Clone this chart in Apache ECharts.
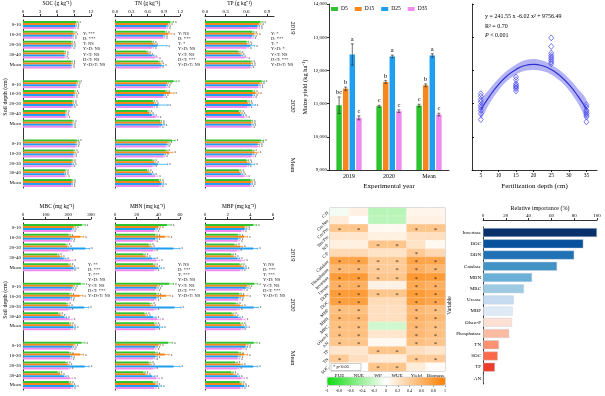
<!DOCTYPE html>
<html><head><meta charset="utf-8">
<script src="https://cdn.jsdelivr.net/npm/echarts@6/dist/echarts.min.js"></script>
<style>html,body{margin:0;padding:0;background:#fff}#c{width:605px;height:396px}</style>
</head><body><div id="c"></div><script>
const FONT = 'Liberation Serif';
const depthLabels = ['0-10','10-20','20-30','30-40','Mean'];
const yearGroups = ['2019','2020','Mean'];
const treatments = ['D5','D15','D25','D35'];
const COLORS = ['#2fc42f','#f7861c','#1e9ff2','#f08cf0'];

// Soil panels: rows = 2019 (5 depths), 2020 (5 depths), Mean (5 depths); one array per treatment
const SOC = [
 [9.4,8.8,8.5,7.3,8.5, 9.6,9.0,8.7,7.5,8.7, 9.5,8.9,8.6,7.4,8.6],
 [9.2,8.9,8.6,7.3,8.5, 9.4,9.1,8.7,7.4,8.6, 9.3,9.0,8.6,7.3,8.6],
 [9.2,8.7,8.5,7.2,8.4, 9.3,8.9,8.8,7.4,8.6, 9.3,8.8,8.6,7.3,8.5],
 [9.1,8.7,8.4,7.3,8.4, 9.3,8.9,8.6,7.5,8.6, 9.2,8.8,8.5,7.4,8.5]];
const SOC_ERR = [[0.3,0.2,0.2,0.2,0.2],[0.2,0.3,0.2,0.2,0.2],[0.2,0.2,0.3,0.2,0.2],[0.2,0.2,0.2,0.3,0.2]];
const TN = [
 [1.02,0.92,0.68,0.58,0.80, 1.08,0.93,0.70,0.60,0.83, 1.05,0.93,0.69,0.59,0.81],
 [0.98,0.98,0.71,0.62,0.83, 0.96,1.02,0.72,0.63,0.84, 0.97,1.00,0.72,0.62,0.83],
 [0.95,0.89,0.78,0.68,0.86, 0.94,0.90,0.80,0.68,0.87, 0.95,0.90,0.79,0.68,0.86],
 [0.94,0.89,0.68,0.74,0.82, 0.93,0.88,0.70,0.75,0.82, 0.93,0.89,0.69,0.74,0.82]];
const TN_ERR = [[0.06,0.03,0.03,0.03,0.03],[0.03,0.07,0.03,0.03,0.02],[0.03,0.03,0.18,0.04,0.04],[0.03,0.03,0.03,0.05,0.02]];
const TP = [
 [0.80,0.68,0.60,0.48,0.66, 0.82,0.69,0.61,0.49,0.67, 0.81,0.68,0.60,0.49,0.66],
 [0.78,0.71,0.61,0.50,0.67, 0.79,0.73,0.62,0.51,0.67, 0.78,0.72,0.61,0.50,0.67],
 [0.76,0.68,0.66,0.52,0.66, 0.77,0.69,0.67,0.53,0.67, 0.76,0.68,0.66,0.52,0.66],
 [0.76,0.67,0.60,0.57,0.65, 0.77,0.68,0.61,0.57,0.66, 0.76,0.67,0.60,0.57,0.65]];
const TP_ERR = [[0.04,0.03,0.03,0.03,0.02],[0.03,0.05,0.03,0.03,0.02],[0.03,0.03,0.06,0.03,0.03],[0.03,0.03,0.03,0.04,0.02]];
const MBC = [
 [260,201,187,150,201, 255,205,190,155,203, 258,203,188,152,202],
 [224,253,194,162,209, 220,250,198,165,210, 222,252,196,163,209],
 [216,209,275,179,224, 215,207,270,182,222, 216,208,272,180,223],
 [212,206,201,209,212, 210,205,200,205,210, 211,205,200,207,211]];
const MBC_ERR = [[15,8,8,8,8],[8,15,8,8,8],[8,8,20,10,10],[8,8,8,12,8]];
const MBN = [
 [48,37,31,26,35, 50,38,32,27,36, 49,37,31,26,35],
 [40,46,32,28,37, 39,47,33,28,37, 40,46,32,28,37],
 [37,37,54,34,40, 38,38,55,35,41, 37,37,54,34,40],
 [36,35,35,38,36, 37,36,36,39,37, 36,35,35,38,36]];
const MBN_ERR = [[4,2,2,2,2],[2,4,2,2,2],[2,2,6,3,3],[2,2,2,3,2]];
const MBP = [
 [4.25,2.9,2.6,2.3,3.05, 4.35,3.0,2.7,2.35,3.1, 4.3,2.95,2.65,2.3,3.05],
 [3.5,3.45,3.1,2.5,3.2, 3.7,3.5,3.1,2.5,3.2, 3.6,3.45,3.1,2.5,3.2],
 [3.5,2.9,4.25,2.85,3.45, 3.6,2.95,4.3,2.9,3.5, 3.55,2.9,4.25,2.85,3.45],
 [3.2,2.85,2.8,3.2,3.1, 3.3,2.9,2.85,3.25,3.15, 3.25,2.85,2.8,3.2,3.1]];
const MBP_ERR = [[0.3,0.2,0.2,0.2,0.2],[0.2,0.3,0.2,0.2,0.2],[0.2,0.2,0.4,0.2,0.2],[0.2,0.2,0.2,0.3,0.2]];

const SOC_STATS = ['Y: ***','D: ***','T: NS','Y×D: NS','Y×T: NS','D×T: NS','Y×D×T: NS'];
const TN_STATS  = ['Y: NS','D: ***','T: *','Y×D: NS','Y×T: NS','D×T: ***','Y×D×T: NS'];
const TP_STATS  = ['Y: *','D: ***','T: *','Y×D: *','Y×T: NS','D×T: ***','Y×D×T: NS'];
const MBC_STATS = ['Y: **','D: ***','T: ***','Y×D: NS','Y×T: NS','D×T: ***','Y×D×T: NS'];
const MBN_STATS = ['Y: NS','D: ***','T: ***','Y×D: NS','Y×T: NS','D×T: ***','Y×D×T: NS'];
const MBP_STATS = ['Y: NS','D: ***','T: ***','Y×D: NS','Y×T: NS','D×T: ***','Y×D×T: NS'];

// Maize yield
const yieldYears = ['2019','2020','Mean'];
const yieldD5  = [10950,10920,10940];
const yieldD15 = [11450,11650,11550];
const yieldD25 = [12480,12420,12450];
const yieldD35 = [10570,10770,10670];
const yieldErr = [[250,30,40],[50,40,40],[320,40,50],[60,40,40]];
const yieldLetters = [['bc','c','c'],['b','b','b'],['a','a','a'],['c','c','c']];

// Scatter (yield vs fertilization depth)
const pts5  = [11300,11220,11120,11050,10950,10880,10800,10700,10520];
const pts15 = [11800,11720,11600,11550,11520,11480,11450,11380];
const pts25 = [12980,12720,12520,12450,12400,12350,12300,12250,12200];
const pts35 = [10970,10900,10800,10750,10700,10650,10600,10450];
const fitX  = [5,7.5,10,12.5,15,17.5,20,22.5,25,27.5,30,32.5,35];
const fitY  = [10815,11226,11570,11840,12030,12148,12180,12140,12030,11840,11580,11240,10835];
const bandLo = [10545,11011,11395,11685,11880,11990,12015,11980,11880,11685,11405,11025,10565];
const bandHi = [11085,11441,11745,11995,12180,12306,12345,12300,12180,11995,11755,11455,11105];

// Correlation heatmap
const heatCols = ['PUE','NUE','WP','WUE','Yield','Biomass'];
const heatRows = ['C:N','Cm:Nm','Cm:Pm','Nm:Pm','N:P','C:P','Catalase','Phosphatase','Invertase','Urease','DON','DOC','MBP','MBN','MBC','Olsen-P','AN','TP','TN','SOC'];
const heatVals = [
 [-0.05,0.1,-0.3,-0.3,0.08,0.08],
 [0.15,0.0,-0.28,-0.28,0.1,0.1],
 [0.45,0.45,0.05,0.05,0.45,0.45],
 [0.2,0.2,0.12,0.12,0.25,0.25],
 [0.12,0.12,0.45,0.45,0.22,0.05],
 [0.3,0.3,0.22,0.22,0.42,0.3],
 [0.72,0.72,0.42,0.42,0.72,0.7],
 [0.55,0.55,0.4,0.4,0.62,0.55],
 [0.78,0.78,0.45,0.45,0.8,0.78],
 [0.62,0.62,0.1,0.1,0.68,0.62],
 [0.78,0.78,0.45,0.45,0.78,0.72],
 [0.75,0.75,0.28,0.28,0.75,0.7],
 [0.5,0.5,0.25,0.25,0.55,0.5],
 [0.55,0.55,0.25,0.25,0.6,0.55],
 [0.5,0.5,-0.2,-0.2,0.55,0.5],
 [0.5,0.5,0.2,0.2,0.55,0.5],
 [0.45,0.45,0.05,0.05,0.5,0.45],
 [0.2,0.2,0.45,0.45,0.25,0.2],
 [0.42,0.25,0.15,0.15,0.42,0.4],
 [0.0,0.0,0.45,0.45,0.15,0.03]];
const heatSig = ['000000','000000','110011','000000','001100','000010','111111','111111','111111','110011',
 '111111','110011','110011','110011','110011','110011','110011','001100','100011','001100'];
const cbTicks = [-1,-0.8,-0.6,-0.4,-0.2,0,0.2,0.4,0.6,0.8,1];

// Relative importance
const impNames = ['Invertase','DOC','DON','Catalase','MBN','MBC','Urease','MBP','Olsen-P','Phosphatase','TN','SOC','TP','AN'];
const impVals  = [100,88,80,65,43,36,27,26,25.5,23,14,13,10.5,0];
const impColors = ['#08306b','#08519c','#2171b5','#4292c6','#6baed6','#9ecae1','#c6dbef','#deebf7','#fee0d2','#fcbba1','#fc9272','#fb6a4a','#ef3b2c','#cb181d'];

// ---------- build ----------
const slots = [];
yearGroups.forEach((g, gi) => { depthLabels.forEach(d => slots.push(d)); if (gi < 2) slots.push(''); });
function pad(arr) {
  const out = [];
  for (let g = 0; g < 3; g++) { for (let d = 0; d < 5; d++) out.push(arr[g * 5 + d]); if (g < 2) out.push('-'); }
  return out;
}
const panels = [
 {title:'SOC (g kg⁻¹)', data:SOC, err:SOC_ERR, max:12, ticks:[0,3,6,9,12], dec:0, left:23, width:68, top:20, height:168, showY:true, stats:SOC_STATS, sx:83, sy:31},
 {title:'TN (g kg⁻¹)', data:TN, err:TN_ERR, max:1.2, ticks:[0,0.3,0.6,0.9,1.2], dec:1, left:115, width:65, top:20, height:168, showY:false, stats:TN_STATS, sx:178, sy:31},
 {title:'TP (g kg⁻¹)', data:TP, err:TP_ERR, max:1.0, ticks:[0,0.3,0.6,0.9], dec:1, left:205, width:69, top:20, height:168, showY:false, stats:TP_STATS, sx:271, sy:31},
 {title:'MBC (mg kg⁻¹)', data:MBC, err:MBC_ERR, max:300, ticks:[0,100,200,300], dec:0, left:23, width:68, top:223, height:167, showY:true, stats:MBC_STATS, sx:88, sy:262},
 {title:'MBN (mg kg⁻¹)', data:MBN, err:MBN_ERR, max:60, ticks:[0,20,40,60], dec:0, left:115, width:65, top:223, height:167, showY:false, stats:MBN_STATS, sx:178, sy:262},
 {title:'MBP (mg kg⁻¹)', data:MBP, err:MBP_ERR, max:6, ticks:[0,2,4,6], dec:0, left:205, width:68, top:223, height:167, showY:false, stats:MBP_STATS, sx:263, sy:262}
];
const AX = {color:'#000', width:0.8};
const grid = [], xAxis = [], yAxis = [], series = [], graphic = [];

panels.forEach((p, i) => {
  grid.push({left:p.left, top:p.top, width:p.width, height:p.height});
  xAxis.push({gridIndex:i, type:'value', position:'top', min:0, max:p.max, offset:4,
    axisLine:{show:true, lineStyle:AX}, splitLine:{show:false},
    axisTick:{show:true, length:2, lineStyle:AX, customValues:p.ticks},
    axisLabel:{fontSize:5, margin:1.5, color:'#000', fontFamily:FONT, customValues:p.ticks, formatter:v => Number(v).toFixed(p.dec)},
    name:p.title, nameLocation:'middle', nameGap:9, nameTextStyle:{fontSize:5.5, color:'#000', fontFamily:FONT}});
  yAxis.push({gridIndex:i, type:'category', data:slots, inverse:true,
    axisLine:{show:true, lineStyle:AX}, axisTick:{show:false},
    axisLabel:{show:p.showY, fontSize:5, margin:2, color:'#000', fontFamily:FONT, interval:0}});
  p.data.forEach((arr, k) => {
    series.push({type:'bar', xAxisIndex:i, yAxisIndex:i, data:pad(arr), barWidth:2, barGap:'0%',
      itemStyle:{color:COLORS[k]}, silent:true});
  });
  const ed = [];
  for (let g = 0; g < 3; g++) for (let d = 0; d < 5; d++) for (let k = 0; k < 4; k++)
    ed.push([p.data[k][g * 5 + d], g * 6 + d, k, p.err[k][d]]);
  series.push({type:'custom', xAxisIndex:i, yAxisIndex:i, data:ed, encode:{x:0, y:1}, silent:true, z:5,
    renderItem:(params, api) => {
      const v = api.value(0), s = api.value(1), k = api.value(2), e = api.value(3);
      const a = api.coord([v - e, s]), b = api.coord([v + e, s]);
      const y = a[1] + (k - 1.5) * 2;
      return {type:'group', children:[
        {type:'line', shape:{x1:a[0], y1:y, x2:b[0], y2:y}, style:{stroke:COLORS[k], lineWidth:0.7}},
        {type:'line', shape:{x1:b[0], y1:y - 1, x2:b[0], y2:y + 1}, style:{stroke:COLORS[k], lineWidth:0.7}},
        {type:'text', x:b[0] + 1.5, y:y, style:{text:'a', fontSize:3.5, fontFamily:FONT, fill:'#444', verticalAlign:'middle'}}
      ]};
    }});
  graphic.push({type:'text', left:p.sx, top:p.sy, style:{text:p.stats.join('\n'), fontSize:4.5, lineHeight:5.2, fontFamily:FONT, fill:'#222'}});
});

// year labels & soil depth labels
[[293,28,'2019'],[293,106,'2020'],[293,165,'Mean'],[293,255,'2019'],[293,305,'2020'],[293,358,'Mean']].forEach(t => {
  graphic.push({type:'text', x:t[0], y:t[1], rotation:-Math.PI / 2,
    style:{text:t[2], fontSize:6.5, fontFamily:FONT, fill:'#000', align:'center', verticalAlign:'middle'}});
});
[[5,97],[5,300]].forEach(t => {
  graphic.push({type:'text', x:t[0], y:t[1], rotation:Math.PI / 2,
    style:{text:'Soil depth (cm)', fontSize:6, fontFamily:FONT, fill:'#000', align:'center', verticalAlign:'middle'}});
});

// ---------- yield chart (grid 6) ----------
grid.push({left:329, top:4, width:120, height:166});
xAxis.push({gridIndex:6, type:'category', data:yieldYears, axisLine:{lineStyle:AX}, axisTick:{show:false},
  axisLabel:{fontSize:6, margin:3, color:'#000', fontFamily:FONT},
  name:'Experimental year', nameLocation:'middle', nameGap:13, nameTextStyle:{fontSize:7, color:'#000', fontFamily:FONT}});
yAxis.push({gridIndex:6, type:'value', min:9000, max:14000, interval:1000, splitLine:{show:false},
  axisLine:{show:true, lineStyle:AX}, axisTick:{show:true, length:2, lineStyle:AX},
  axisLabel:{fontSize:5, margin:2, color:'#000', fontFamily:FONT},
  name:'Maize yield (kg ha⁻¹)', nameLocation:'middle', nameGap:20, nameTextStyle:{fontSize:6.5, color:'#000', fontFamily:FONT}});
[yieldD5, yieldD15, yieldD25, yieldD35].forEach((arr, k) => {
  series.push({type:'bar', name:treatments[k], xAxisIndex:6, yAxisIndex:6, data:arr, barWidth:5.5, barGap:'20%',
    itemStyle:{color:COLORS[k]}, silent:true});
});
const yieldAll = [yieldD5, yieldD15, yieldD25, yieldD35];
const yed = [];
for (let c = 0; c < 3; c++) for (let k = 0; k < 4; k++) yed.push([c, yieldAll[k][c], k, yieldErr[k][c]]);
series.push({type:'custom', xAxisIndex:6, yAxisIndex:6, data:yed, encode:{x:0, y:1}, silent:true, z:5,
  renderItem:(params, api) => {
    const c = api.value(0), v = api.value(1), k = api.value(2), e = api.value(3);
    const t = api.coord([c, v + e]), b = api.coord([c, v - e]);
    const x = t[0] + (k - 1.5) * 6.6;
    return {type:'group', children:[
      {type:'line', shape:{x1:x, y1:t[1], x2:x, y2:b[1]}, style:{stroke:'#333', lineWidth:0.7}},
      {type:'line', shape:{x1:x - 1.5, y1:t[1], x2:x + 1.5, y2:t[1]}, style:{stroke:'#333', lineWidth:0.7}},
      {type:'line', shape:{x1:x - 1.5, y1:b[1], x2:x + 1.5, y2:b[1]}, style:{stroke:'#333', lineWidth:0.7}},
      {type:'text', x:x, y:t[1] - 1, style:{text:yieldLetters[k][c], fontSize:6.5, fontFamily:FONT, fill:'#000', align:'center', verticalAlign:'bottom'}}
    ]};
  }});

// ---------- scatter (grid 7) ----------
grid.push({left:472, top:4, width:125, height:166});
xAxis.push({gridIndex:7, type:'value', min:2.5, max:38, splitLine:{show:false}, axisLine:{lineStyle:AX},
  axisTick:{show:true, length:2, lineStyle:AX, customValues:[5,10,15,20,25,30,35]},
  axisLabel:{fontSize:5.5, margin:3, color:'#000', fontFamily:FONT, customValues:[5,10,15,20,25,30,35]},
  name:'Fertilization depth (cm)', nameLocation:'middle', nameGap:13, nameTextStyle:{fontSize:7, color:'#000', fontFamily:FONT}});
yAxis.push({gridIndex:7, type:'value', min:9000, max:14000, interval:1000, splitLine:{show:false},
  axisLine:{show:true, lineStyle:AX}, axisTick:{show:true, inside:true, length:2, lineStyle:AX}, axisLabel:{show:false}});
series.push({type:'custom', xAxisIndex:7, yAxisIndex:7, data:[[fitX[0], fitY[0]]], encode:{x:0, y:1}, silent:true, z:2,
  renderItem:(params, api) => {
    const up = fitX.map((x, i) => api.coord([x, bandHi[i]]));
    const lo = fitX.map((x, i) => api.coord([x, bandLo[i]])).reverse();
    return {type:'polygon', shape:{points:up.concat(lo), smooth:0.35}, style:{fill:'rgba(105,105,235,0.5)'}};
  }});
series.push({type:'line', xAxisIndex:7, yAxisIndex:7, data:fitX.map((x, i) => [x, fitY[i]]), smooth:true,
  showSymbol:false, lineStyle:{color:'#3030d0', width:1.2}, silent:true, z:3});
const scatterPts = [];
[[5, pts5], [15, pts15], [25, pts25], [35, pts35]].forEach(([d, arr]) => arr.forEach(v => scatterPts.push([d, v])));
series.push({type:'scatter', xAxisIndex:7, yAxisIndex:7, data:scatterPts, symbol:'diamond', symbolSize:[5,6], z:4,
  itemStyle:{color:'rgba(255,255,255,0)', borderColor:'#4848f0', borderWidth:0.9}, silent:true});
graphic.push({type:'text', left:485, top:13, style:{text:'y = 241.55 x -6.02 x² + 9756.49', fontSize:6, fontFamily:FONT, fill:'#000'}});
graphic.push({type:'text', left:485, top:23, style:{text:'R² = 0.70', fontSize:6, fontFamily:FONT, fill:'#000'}});
graphic.push({type:'text', left:485, top:32, style:{text:'{i|P} < 0.001', fontSize:6, fontFamily:FONT, fill:'#000',
  rich:{i:{fontStyle:'italic', fontSize:6, fontFamily:FONT}}}});

// ---------- heatmap (grid 8) ----------
grid.push({left:330, top:208, width:115, height:163, show:true, borderColor:'#888', borderWidth:0.8, backgroundColor:'#fff'});
xAxis.push({gridIndex:8, type:'category', data:heatCols, axisLine:{show:false}, axisTick:{show:false},
  axisLabel:{fontSize:5, margin:2, color:'#000', fontFamily:FONT, interval:0}});
yAxis.push({gridIndex:8, type:'category', data:heatRows, inverse:true, axisLine:{show:false}, axisTick:{show:false},
  axisLabel:{fontSize:4.5, margin:2, rotate:45, color:'#000', fontFamily:FONT, interval:0}});
const hd = [];
heatRows.forEach((r, ri) => heatCols.forEach((c, ci) => hd.push([ci, ri, heatVals[ri][ci], heatSig[ri][ci] === '1' ? 1 : 0])));
const heatIdx = series.length;
series.push({type:'heatmap', xAxisIndex:8, yAxisIndex:8, data:hd, silent:true,
  itemStyle:{borderColor:'rgba(255,255,255,0.5)', borderWidth:0.4},
  label:{show:true, formatter:p => p.data[3] ? '*' : '', fontSize:7, color:'#333', offset:[0,1.5]}});
// colorbar ticks (grid 9)
grid.push({left:327, top:386, width:118, height:1});
xAxis.push({gridIndex:9, type:'value', min:-1, max:1, interval:0.2, position:'top', splitLine:{show:false},
  axisLine:{show:false}, axisTick:{show:true, inside:false, length:1.5, lineStyle:{color:'#333', width:0.5}},
  axisLabel:{show:false}});
yAxis.push({gridIndex:9, type:'value', show:false});
graphic.push({type:'rect', shape:{x:331, y:363.5, width:30, height:7}, style:{fill:'#fff', stroke:'#999', lineWidth:0.5}, z:100});
graphic.push({type:'text', x:333, y:367, style:{text:'* p<0.05', fontSize:4.5, fontFamily:FONT, fill:'#000', verticalAlign:'middle'}, z:101});
cbTicks.forEach(t => {
  graphic.push({type:'text', x:327 + (t + 1) / 2 * 118, y:391, style:{text:String(t), fontSize:4, fontFamily:FONT, fill:'#000', align:'center', verticalAlign:'middle'}});
});

// ---------- relative importance (grid 10) ----------
grid.push({left:483, top:227, width:114, height:157});
xAxis.push({gridIndex:10, type:'value', position:'top', min:0, max:100, interval:20, offset:7, splitLine:{show:false},
  axisLine:{show:true, lineStyle:AX}, axisTick:{show:true, length:2, lineStyle:AX},
  axisLabel:{fontSize:5, margin:1.5, color:'#000', fontFamily:FONT},
  name:'Relative importance (%)', nameLocation:'middle', nameGap:9, nameTextStyle:{fontSize:6, color:'#000', fontFamily:FONT}});
yAxis.push({gridIndex:10, type:'category', data:impNames, inverse:true, axisLine:{show:true, lineStyle:AX}, axisTick:{show:false},
  axisLabel:{fontSize:5, margin:2, color:'#000', fontFamily:FONT, interval:0},
  name:'Variable', nameLocation:'middle', nameGap:29, nameTextStyle:{fontSize:5.5, color:'#000', fontFamily:FONT}});
series.push({type:'bar', xAxisIndex:10, yAxisIndex:10, barWidth:9, silent:true,
  data:impVals.map((v, i) => ({value:v, itemStyle:{color:impColors[i], borderColor:'rgba(200,210,225,0.9)', borderWidth:0.5}}))});

const chart = echarts.init(document.getElementById('c'), null, {renderer:'canvas'});
chart.setOption({
  animation:false,
  backgroundColor:'#fff',
  textStyle:{fontFamily:FONT},
  grid, xAxis, yAxis, series, graphic,
  legend:{data:treatments, left:331, top:6, itemWidth:7, itemHeight:4, itemGap:7, padding:0, icon:'rect',
    textStyle:{fontSize:5.5, fontFamily:FONT, color:'#000', padding:[0,0,0,-2]}},
  visualMap:{type:'continuous', min:-1, max:1, seriesIndex:heatIdx, dimension:2, orient:'horizontal',
    left:327, top:377, itemWidth:8, itemHeight:118, padding:0, calculable:false, text:null, showLabel:false,
    inRange:{color:['#10dc10','#ffffff','#ff8000']}, borderColor:'#888', borderWidth:0.5}
});
</script></body></html>
